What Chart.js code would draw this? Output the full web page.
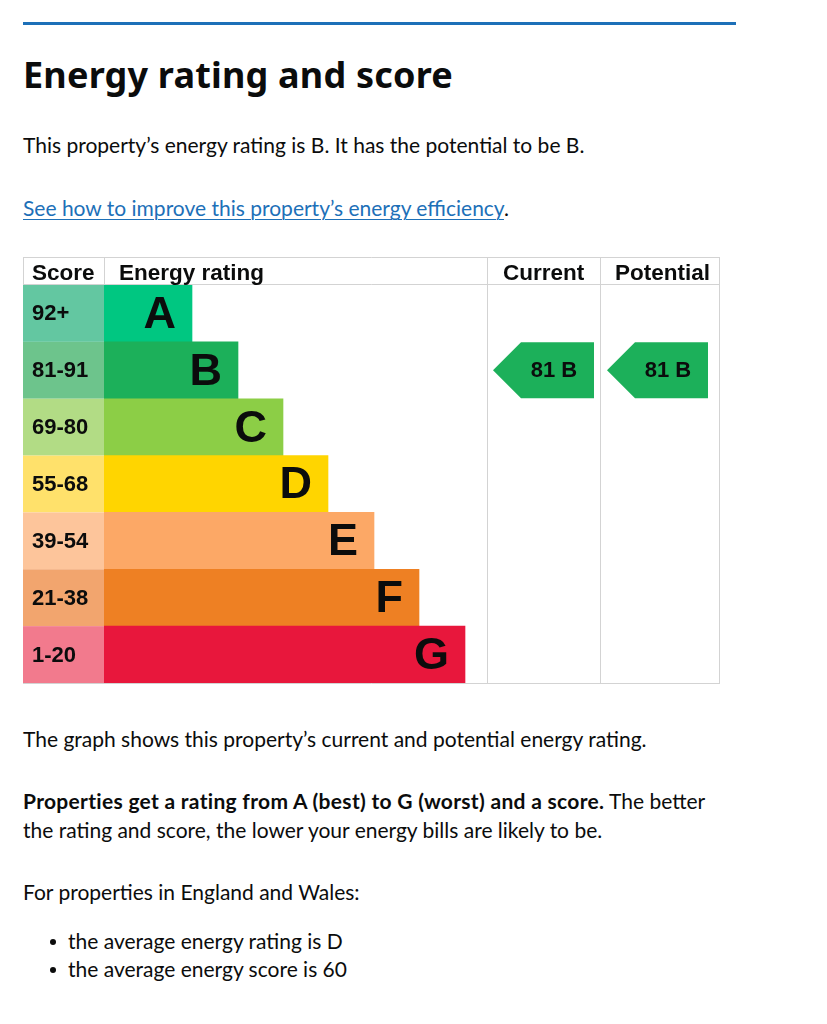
<!DOCTYPE html>
<html>
<head>
<meta charset="utf-8">
<script src="https://cdn.jsdelivr.net/npm/chart.js@4"></script>
<style>
  html, body { margin: 0; padding: 0; background: #fff; }
  body { width: 827px; height: 1024px; position: relative; overflow: hidden; font-family: Lato, "Noto Sans", sans-serif; color: #0b0c0c; }
  .abs { position: absolute; left: 23px; white-space: nowrap; font-size: 21px; line-height: 24px; }
  #rule { position: absolute; left: 23px; top: 22px; width: 713px; height: 3px; background: #1d70b8; }
  #title { font-family: "Noto Sans", Lato, sans-serif; font-size: 36px; line-height: 40px; font-weight: 700; letter-spacing: 0.2px; }
  a { color: #1d70b8; text-decoration: underline; text-decoration-thickness: 1px; text-underline-offset: 3px; }
  b { font-weight: 700; letter-spacing: 0.3px; }
  #chartBox { position: absolute; left: 23px; top: 257px; width: 697px; height: 427px; }
  ul { margin: 0; padding: 0; list-style: none; }
  li { position: relative; padding-left: 45px; line-height: 28px; }
  li::before { content: ""; position: absolute; left: 27px; top: 12px; width: 6px; height: 6px; border-radius: 50%; background: #0b0c0c; }
</style>
</head>
<body>
<div id="rule"></div>
<div class="abs" id="title" style="top:55px;">Energy rating and score</div>
<div class="abs" style="top:133px;">This property’s energy rating is B. It has the potential to be B.</div>
<div class="abs" style="top:196px;"><a>See how to improve this property’s energy efficiency</a>.</div>
<div id="chartBox"><canvas id="c"></canvas></div>
<div class="abs" style="top:727px;">The graph shows this property’s current and potential energy rating.</div>
<div class="abs" style="top:786px; line-height:29px;"><b>Properties get a rating from A (best) to G (worst) and a score.</b> The better<br>the rating and score, the lower your energy bills are likely to be.</div>
<div class="abs" style="top:880px;">For properties in England and Wales:</div>
<div class="abs" style="top:927px; left:23px;">
  <ul>
    <li>the average energy rating is D</li>
    <li>the average energy score is 60</li>
  </ul>
</div>

<script>
// ---- data ----
const bands = ['A', 'B', 'C', 'D', 'E', 'F', 'G'];
const scoreRanges = ['92+', '81-91', '69-80', '55-68', '39-54', '21-38', '1-20'];
const bandMinScores = [92, 81, 69, 55, 39, 21, 1];
const barLengths = [88, 134, 179, 224, 270, 315, 361];
const axisMax = 383;
const barColors = ['#00c781', '#1cb05a', '#8cce46', '#ffd500', '#fca866', '#ee8023', '#e8173c'];
const scoreColors = ['#63c7a1', '#6dc48c', '#b2dc85', '#ffe16b', '#fdc59b', '#f2a56e', '#f27a8d'];
const headers = ['Score', 'Energy rating', 'Current', 'Potential'];
const currentScore = 81;
const potentialScore = 81;

function bandIndexFor(score) {
  for (let i = 0; i < bandMinScores.length; i++) if (score >= bandMinScores[i]) return i;
  return bandMinScores.length - 1;
}

const FONT = '"Liberation Sans", Arial, sans-serif';
const GRID = '#d3d3d3';

const epcPlugin = {
  id: 'epc',
  beforeDatasetsDraw(chart) {
    const ctx = chart.ctx, ca = chart.chartArea, y = chart.scales.y;
    const rowH = (ca.bottom - ca.top) / bands.length;
    ctx.save();
    bands.forEach((b, i) => {
      const cy = y.getPixelForValue(i);
      ctx.fillStyle = scoreColors[i];
      ctx.fillRect(0, cy - rowH / 2, ca.left, rowH);
      ctx.fillStyle = '#0b0c0c';
      ctx.font = 'bold 22px ' + FONT;
      ctx.textAlign = 'left';
      ctx.textBaseline = 'middle';
      ctx.fillText(scoreRanges[i], 9, cy + 1);
    });
    ctx.restore();
  },
  afterDatasetsDraw(chart) {
    const ctx = chart.ctx, ca = chart.chartArea, y = chart.scales.y;
    const W = chart.width;
    const rowH = (ca.bottom - ca.top) / bands.length;
    const meta = chart.getDatasetMeta(0);
    ctx.save();
    meta.data.forEach((bar, i) => {
      ctx.fillStyle = '#0b0c0c';
      ctx.font = 'bold 45px ' + FONT;
      ctx.textAlign = 'right';
      ctx.textBaseline = 'middle';
      ctx.fillText(bands[i], bar.x - 16, bar.y + 2);
    });
    const curLeft = ca.right + 0.5;
    const potLeft = ca.right + 113.5;
    const right = W - 0.5;
    ctx.strokeStyle = GRID;
    ctx.lineWidth = 1;
    ctx.beginPath();
    ctx.moveTo(0, 0.5); ctx.lineTo(right, 0.5);
    ctx.moveTo(0, ca.top - 0.5); ctx.lineTo(right, ca.top - 0.5);
    ctx.moveTo(0, ca.bottom + 0.5); ctx.lineTo(right, ca.bottom + 0.5);
    ctx.moveTo(0.5, 0); ctx.lineTo(0.5, ca.top);
    ctx.moveTo(ca.left + 0.5, 0); ctx.lineTo(ca.left + 0.5, ca.top);
    ctx.moveTo(curLeft, 0); ctx.lineTo(curLeft, ca.bottom + 1);
    ctx.moveTo(potLeft, 0); ctx.lineTo(potLeft, ca.bottom + 1);
    ctx.moveTo(right, 0); ctx.lineTo(right, ca.bottom + 1);
    ctx.stroke();
    ctx.fillStyle = '#0b0c0c';
    ctx.font = 'bold 22.5px ' + FONT;
    ctx.textAlign = 'left';
    ctx.textBaseline = 'alphabetic';
    const hx = [9, ca.left + 15, curLeft + 15.5, potLeft + 14.5];
    headers.forEach((h, i) => ctx.fillText(h, hx[i], ca.top - 5));
    const drawArrow = (left, score) => {
      const idx = bandIndexFor(score);
      const cy = y.getPixelForValue(idx);
      const top = cy - rowH / 2 + 0.5, bot = cy + rowH / 2 - 0.5;
      const w = 101, tip = 28;
      ctx.fillStyle = barColors[idx];
      ctx.beginPath();
      ctx.moveTo(left, cy);
      ctx.lineTo(left + tip, top);
      ctx.lineTo(left + w, top);
      ctx.lineTo(left + w, bot);
      ctx.lineTo(left + tip, bot);
      ctx.closePath();
      ctx.fill();
      ctx.fillStyle = '#0b0c0c';
      ctx.font = 'bold 22px ' + FONT;
      ctx.textAlign = 'center';
      ctx.textBaseline = 'middle';
      ctx.fillText(score + ' ' + bands[idx], left + 61, cy + 1);
    };
    drawArrow(curLeft + 5.5, currentScore);
    drawArrow(potLeft + 6.5, potentialScore);
    ctx.restore();
  }
};

new Chart(document.getElementById('c'), {
  type: 'bar',
  data: {
    labels: bands,
    datasets: [{
      data: barLengths,
      backgroundColor: barColors,
      borderWidth: 0,
      barPercentage: 1,
      categoryPercentage: 1
    }]
  },
  options: {
    indexAxis: 'y',
    responsive: true,
    maintainAspectRatio: false,
    animation: false,
    devicePixelRatio: 1,
    layout: { padding: { left: 81, top: 28, right: 233, bottom: 1 } },
    plugins: { legend: { display: false }, tooltip: { enabled: false } },
    scales: {
      x: { display: false, min: 0, max: axisMax },
      y: { display: false, grid: { display: false } }
    }
  },
  plugins: [epcPlugin]
});
</script>
</body>
</html>
